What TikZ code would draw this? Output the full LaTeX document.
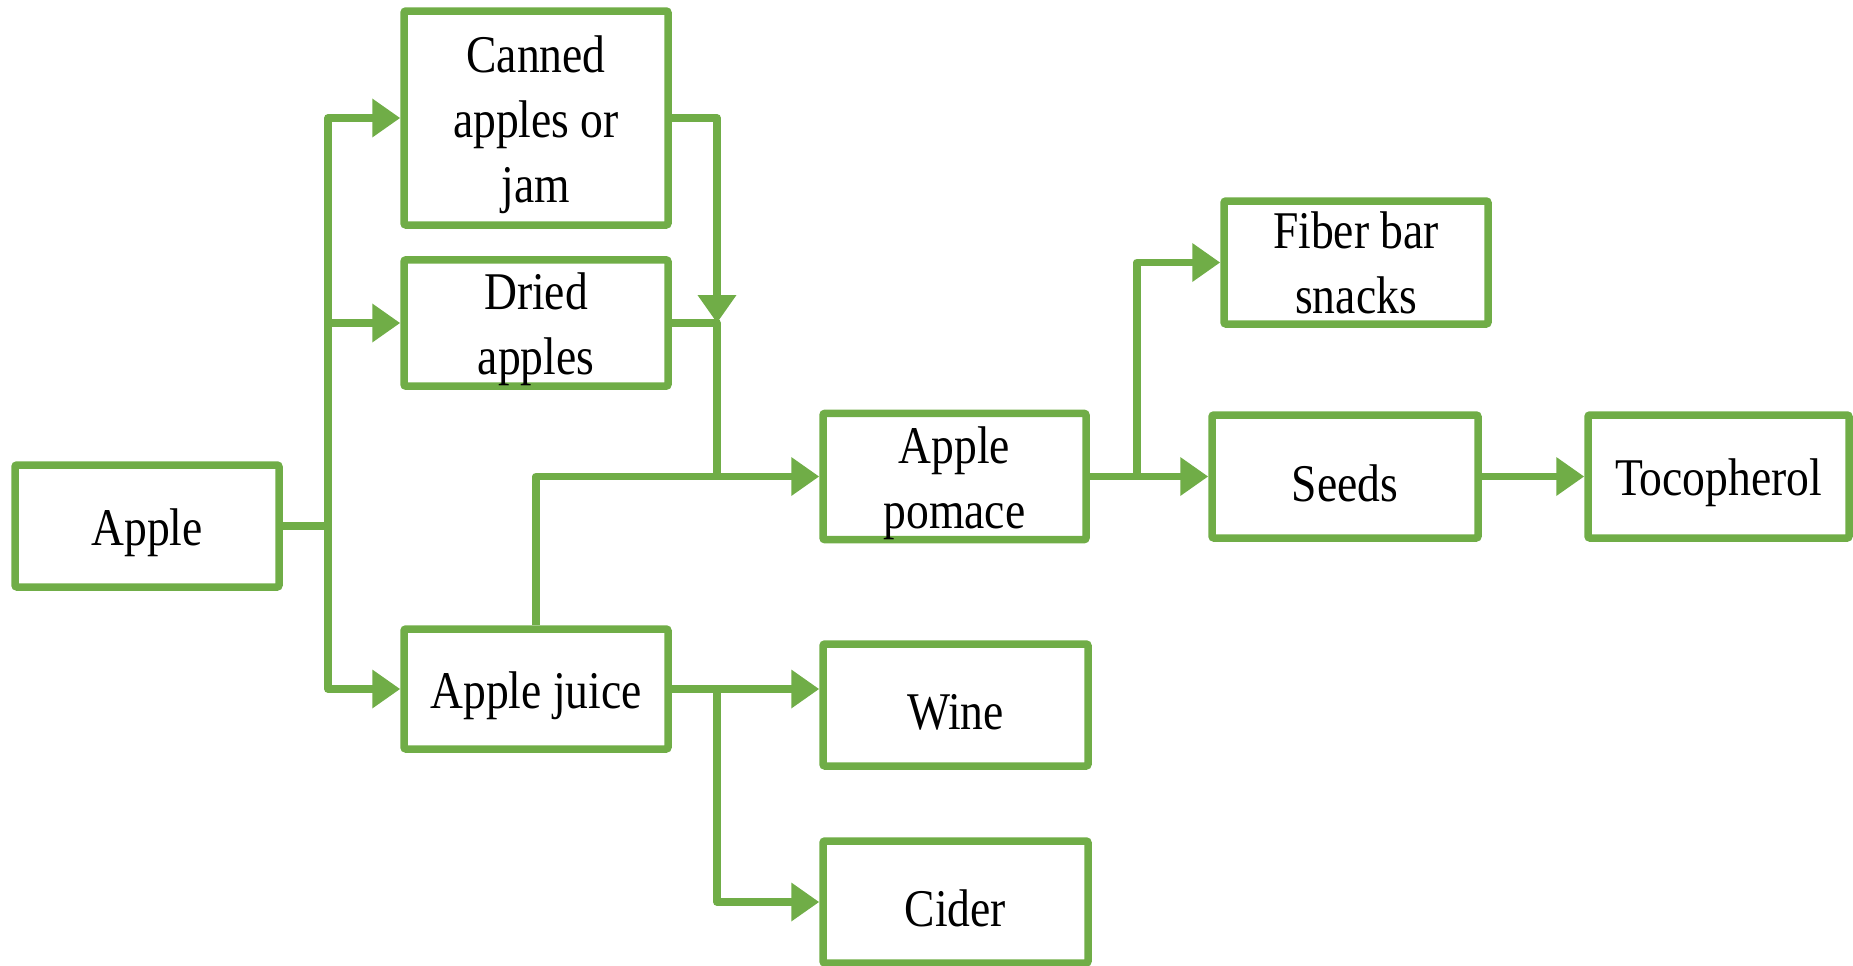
\documentclass[tikz,border=0pt]{standalone}
\usepackage{fontspec}
\setmainfont{Liberation Serif}[FakeStretch=0.86]
\usetikzlibrary{arrows.meta}
\definecolor{lgreen}{HTML}{70AD47}
\newcommand\tstr{\rule{0pt}{25pt}}
\begin{document}
\begin{tikzpicture}[x=0.5pt,y=-0.5pt,
  box/.style={draw=lgreen, line width=3.75pt, rectangle, rounded corners=1pt,
    align=center, inner sep=0pt,
    font=\fontsize{26.5}{32.5}\selectfont, text=black},
  conn/.style={draw=lgreen, line width=3.75pt, line join=round},
  arr/.style={conn, -{Triangle[length=14pt,width=18.5pt]}}]
\useasboundingbox (0,0) rectangle (1853,965);
\node[box, minimum width=132pt, minimum height=61pt] (apple) at (147,526) {\tstr Apple};
\node[box, minimum width=132pt, minimum height=107pt] (canned) at (536,118) {\tstr Canned\\apples or\\jam};
\node[box, minimum width=132pt, minimum height=61pt] (dried) at (536,323) {\tstr Dried\\apples};
\node[box, minimum width=132pt, minimum height=60pt] (juice) at (536,689) {\tstr Apple juice};
\node[box, minimum width=131.5pt, minimum height=61.5pt] (pomace) at (954.5,476.5) {\tstr Apple\\pomace};
\node[box, minimum width=132pt, minimum height=61.5pt] (fiber) at (1356,262.5) {Fiber bar\\snacks};
\node[box, minimum width=133pt, minimum height=61.5pt] (seeds) at (1345,476.5) {\tstr Seeds};
\node[box, minimum width=130.5pt, minimum height=61.5pt] (toco) at (1718.5,476.5) {\tstr Tocopherol};
\node[box, minimum width=132.5pt, minimum height=61pt] (wine) at (955.5,705) {\tstr Wine};
\node[box, minimum width=132.5pt, minimum height=61pt] (cider) at (955.5,902) {\tstr Cider};
\coordinate (trunk) at (328,526);
\coordinate (jdown) at (717,323);
\coordinate (jpom) at (717,476.5);
\coordinate (jsplit) at (1137,476.5);
\coordinate (jjuice) at (717,689);
% Apple to first products
\draw[conn] (apple.east) -- (trunk);
\draw[arr] (trunk) |- (canned.west);
\draw[arr] (trunk) |- (dried.west);
\draw[arr] (trunk) |- (juice.west);
% to pomace
\draw[arr] (canned.east) -| (jdown);
\draw[conn] (dried.east) -- (jdown) -- (jpom);
\draw[arr] (juice.north) |- (pomace.west);
% pomace outputs
\draw[arr] (pomace.east) -- (seeds.west);
\draw[arr] (jsplit) |- (fiber.west);
\draw[arr] (seeds.east) -- (toco.west);
% juice outputs
\draw[arr] (juice.east) -- (juice.east -| wine.west);
\draw[arr] (jjuice) |- (cider.west);
\end{tikzpicture}
\end{document}
